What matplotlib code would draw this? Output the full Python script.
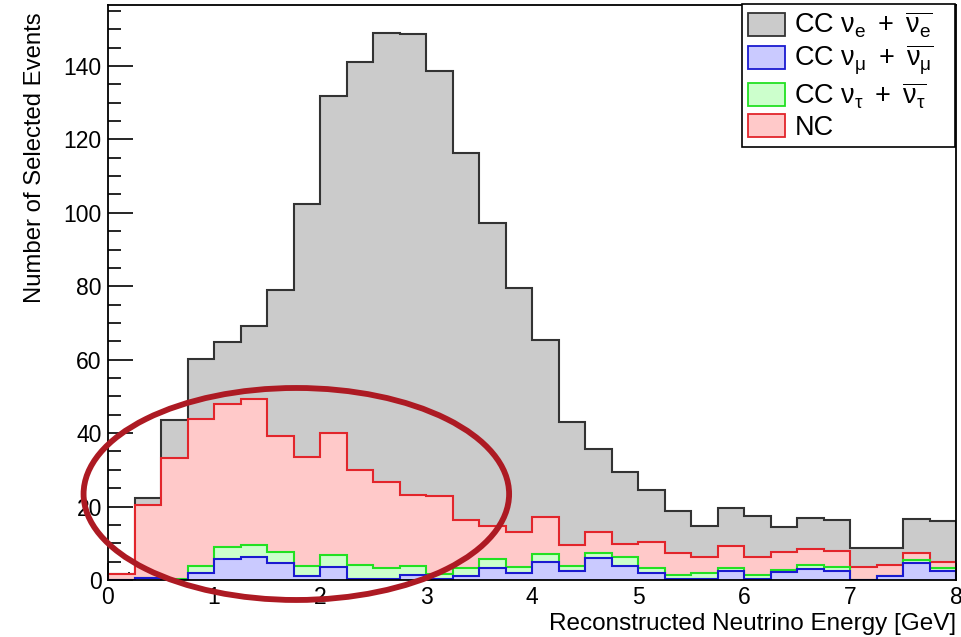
import numpy as np
import matplotlib
matplotlib.use("Agg")
import matplotlib.pyplot as plt
from matplotlib.patches import Ellipse, Patch

plt.rcParams['font.family'] = ['Liberation Sans', 'DejaVu Sans']
plt.rcParams['mathtext.fontset'] = 'custom'
plt.rcParams['mathtext.rm'] = 'Liberation Sans'
plt.rcParams['mathtext.it'] = 'Liberation Sans:italic'
plt.rcParams['mathtext.bf'] = 'Liberation Sans:bold'

# ---- data: 32 bins of 0.25 GeV from 0 to 8 GeV ----
bin_edges = np.linspace(0.0, 8.0, 33)

cc_numu = [0.0, 0.5, 0.0, 2.0, 5.8, 6.4, 4.7, 1.2, 3.6, 0.2, 0.2, 1.4, 0.4, 1.1, 3.2, 2.0,
           4.8, 2.4, 6.0, 3.7, 1.9, 0.2, 0.4, 2.5, 0.2, 2.1, 3.0, 2.5, 0.0, 1.0, 4.5, 2.4]
cc_nutau = [0.0, 0.0, 0.3, 1.8, 3.1, 3.2, 2.8, 2.7, 3.2, 4.0, 3.2, 2.3, 1.3, 2.2, 2.4, 1.5,
            2.3, 1.3, 1.4, 2.5, 1.4, 1.2, 1.4, 0.8, 1.2, 0.6, 1.2, 1.1, 0.1, 0.2, 0.9, 0.9]
nc = [1.5, 19.9, 32.9, 40.1, 39.1, 39.6, 31.8, 29.7, 33.2, 25.8, 23.3, 19.5, 21.3, 13.0, 9.1, 9.5,
      10.0, 5.8, 5.6, 3.6, 7.0, 6.0, 4.6, 5.9, 4.8, 4.8, 4.3, 4.4, 3.5, 3.0, 1.9, 1.7]
cc_nue = [0.0, 2.0, 10.3, 16.2, 16.8, 19.9, 39.6, 68.7, 91.9, 111.2, 122.4, 125.5, 115.6, 100.0, 82.4, 66.6,
          48.2, 33.5, 22.7, 19.5, 14.1, 11.3, 8.2, 10.3, 11.1, 6.8, 8.3, 8.4, 5.0, 4.4, 9.3, 11.0]

labels = [r'CC $\mathrm{\nu_e}\ +\ \overline{\mathrm{\nu_e}}$',
          r'CC $\mathrm{\nu_\mu}\ +\ \overline{\mathrm{\nu_\mu}}$',
          r'CC $\mathrm{\nu_\tau}\ +\ \overline{\mathrm{\nu_\tau}}$',
          'NC']
x_ticks = [0, 1, 2, 3, 4, 5, 6, 7, 8]
y_ticks = [0, 20, 40, 60, 80, 100, 120, 140]

# stack order from bottom: numu, nutau, NC, nue
s_numu = np.array(cc_numu)
s_nutau = s_numu + np.array(cc_nutau)
s_nc = s_nutau + np.array(nc)
s_nue = s_nc + np.array(cc_nue)

fig = plt.figure(figsize=(9.61, 6.37), dpi=100)
ax = fig.add_axes([108/961, 1 - 580/637, 848/961, 575/637])

styles = [
    (s_nue, '#cbcbcb', '#333333'),
    (s_nc, '#ffc9c9', '#e2252b'),
    (s_nutau, '#ccffcc', '#22e022'),
    (s_numu, '#cacaff', '#1a1ad0'),
]
for i, (vals, fc, ec) in enumerate(styles):
    ax.stairs(vals, bin_edges, baseline=0, fill=True, facecolor=fc, edgecolor='none', zorder=2 + i)
    ax.stairs(vals, bin_edges, baseline=0, fill=False, color=ec, linewidth=1.5, zorder=2 + i)

ax.set_xlim(0, 8)
ax.set_ylim(0, 156.6)
ax.set_xticks(x_ticks)
ax.set_yticks(y_ticks)
ax.set_xticks(np.arange(0, 8.01, 0.2), minor=True)
ax.set_yticks(np.arange(0, 156, 5), minor=True)
ax.tick_params(axis='both', which='both', direction='in', width=1.2, labelsize=16.5, pad=4.5)
ax.tick_params(axis='y', which='major', length=18)
ax.tick_params(axis='y', which='minor', length=9.5)
ax.tick_params(axis='x', which='major', length=12)
ax.tick_params(axis='x', which='minor', length=6)
for sp in ax.spines.values():
    sp.set_linewidth(1.3)
    sp.set_zorder(10)

ax.set_xlabel('Reconstructed Neutrino Energy [GeV]', fontsize=17.5, loc='right', labelpad=3)
ax.set_ylabel('Number of Selected Events', fontsize=17.2, loc='top')
ax.yaxis.set_label_coords(-0.073, 0.988)

handles = [Patch(facecolor='#cbcbcb', edgecolor='#333333', linewidth=1.3),
           Patch(facecolor='#cacaff', edgecolor='#1a1ad0', linewidth=1.3),
           Patch(facecolor='#ccffcc', edgecolor='#22e022', linewidth=1.3),
           Patch(facecolor='#ffc9c9', edgecolor='#e2252b', linewidth=1.3)]
leg_x0 = (742 - 108) / 848
leg_w = (955 - 742) / 848
leg = ax.legend(handles, labels, loc='upper right',
                bbox_to_anchor=(leg_x0, 0.5, leg_w, 0.502), mode='expand',
                borderaxespad=0, fontsize=19.5, frameon=True, fancybox=False,
                edgecolor='black', framealpha=1, handlelength=1.38, handleheight=0.93,
                handletextpad=0.33, labelspacing=0.12, borderpad=0.22)
leg.get_frame().set_linewidth(1.2)
leg.set_zorder(20)

ell = Ellipse((0.2221, 0.1496), 0.5018, 0.3687, transform=ax.transAxes,
              fill=False, edgecolor='#ad1a23', linewidth=4.2, clip_on=False, zorder=30)
ax.add_patch(ell)

fig.savefig('out.png', dpi=100)
